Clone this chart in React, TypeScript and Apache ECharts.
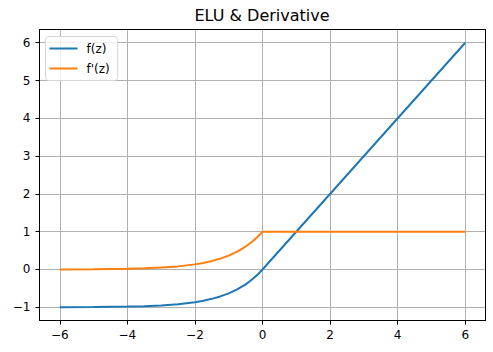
import React, { useEffect, useRef } from "react";
import * as echarts from "echarts";

const zValues = [-6, -5, -4, -3.5, -3, -2.5, -2, -1.75, -1.5, -1.25, -1, -0.75, -0.5, -0.375, -0.25, -0.125, 0, 6];
const fValues = [-0.998, -0.993, -0.982, -0.97, -0.95, -0.918, -0.865, -0.826, -0.777, -0.713, -0.632, -0.528, -0.393, -0.313, -0.221, -0.118, 0, 6];
const dfValues = [0.002, 0.007, 0.018, 0.03, 0.05, 0.082, 0.135, 0.174, 0.223, 0.287, 0.368, 0.472, 0.607, 0.687, 0.779, 0.882, 1, 1];
const xTicks = [-6, -4, -2, 0, 2, 4, 6];
const yTicks = [-1, 0, 1, 2, 3, 4, 5, 6];
const seriesNames = ["f(z)", "f'(z)"];
const title = "ELU & Derivative";

const FONT = "DejaVu Sans";
const fmt = (v: number) => (v < 0 ? "\u2212" + Math.abs(v) : String(v));

export default function App() {
  const ref = useRef<HTMLDivElement>(null);
  useEffect(() => {
    if (!ref.current) return;
    const chart = echarts.init(ref.current, undefined, { renderer: "svg" });
    const grid = { left: 39.5, right: 7.5, top: 29.5, bottom: 31.5 };
    chart.setOption({
      animation: false,
      backgroundColor: "#ffffff",
      title: {
        text: title,
        left: 262,
        textAlign: "center",
        top: 7,
        padding: 0,
        textStyle: { fontFamily: FONT, fontSize: 16, fontWeight: "normal", color: "#000" },
      },
      legend: {
        orient: "vertical",
        left: 45.5,
        top: 36.5,
        data: seriesNames,
        icon: "rect",
        itemWidth: 28,
        itemHeight: 2,
        itemGap: 8,
        padding: [6, 8, 6, 4],
        backgroundColor: "rgba(255,255,255,0.8)",
        borderColor: "#d6d6d6",
        borderWidth: 1,
        borderRadius: 3,
        textStyle: { fontFamily: FONT, fontSize: 12, color: "#000", lineHeight: 12, padding: [0, 0, 0, 4] },
      },
      grid,
      xAxis: [
        {
          type: "value",
          min: -6.6,
          max: 6.6,
          axisLine: { show: true, onZero: false, lineStyle: { color: "#000", width: 1 } },
          axisTick: { show: true, length: 4, customValues: xTicks, lineStyle: { color: "#000" } },
          axisLabel: { customValues: xTicks, formatter: fmt, margin: 8, fontFamily: FONT, fontSize: 12, color: "#000" },
          splitLine: { show: true, lineStyle: { color: "#b0b0b0", width: 1 } },
        },
        {
          type: "value",
          position: "top",
          min: -6.6,
          max: 6.6,
          axisLine: { show: true, onZero: false, lineStyle: { color: "#000", width: 1 } },
          axisTick: { show: false },
          axisLabel: { show: false },
          splitLine: { show: false },
        },
      ],
      yAxis: [
        {
          type: "value",
          min: -1.35,
          max: 6.35,
          axisLine: { show: true, onZero: false, lineStyle: { color: "#000", width: 1 } },
          axisTick: { show: true, length: 4, customValues: yTicks, lineStyle: { color: "#000" } },
          axisLabel: { customValues: yTicks, formatter: fmt, margin: 9, fontFamily: FONT, fontSize: 12, color: "#000" },
          splitLine: { show: true, lineStyle: { color: "#b0b0b0", width: 1 } },
        },
        {
          type: "value",
          position: "right",
          min: -1.35,
          max: 6.35,
          axisLine: { show: true, onZero: false, lineStyle: { color: "#000", width: 1 } },
          axisTick: { show: false },
          axisLabel: { show: false },
          splitLine: { show: false },
        },
      ],
      series: [
        {
          name: seriesNames[0],
          type: "line",
          data: zValues.map((z, i) => [z, fValues[i]]),
          showSymbol: false,
          lineStyle: { color: "#1f77b4", width: 2 },
          itemStyle: { color: "#1f77b4" },
        },
        {
          name: seriesNames[1],
          type: "line",
          data: zValues.map((z, i) => [z, dfValues[i]]),
          showSymbol: false,
          lineStyle: { color: "#ff7f0e", width: 2 },
          itemStyle: { color: "#ff7f0e" },
        },
      ],
    });
    return () => chart.dispose();
  }, []);
  return <div ref={ref} style={{ width: 493, height: 352, position: "absolute", left: 0, top: 0 }} />;
}
